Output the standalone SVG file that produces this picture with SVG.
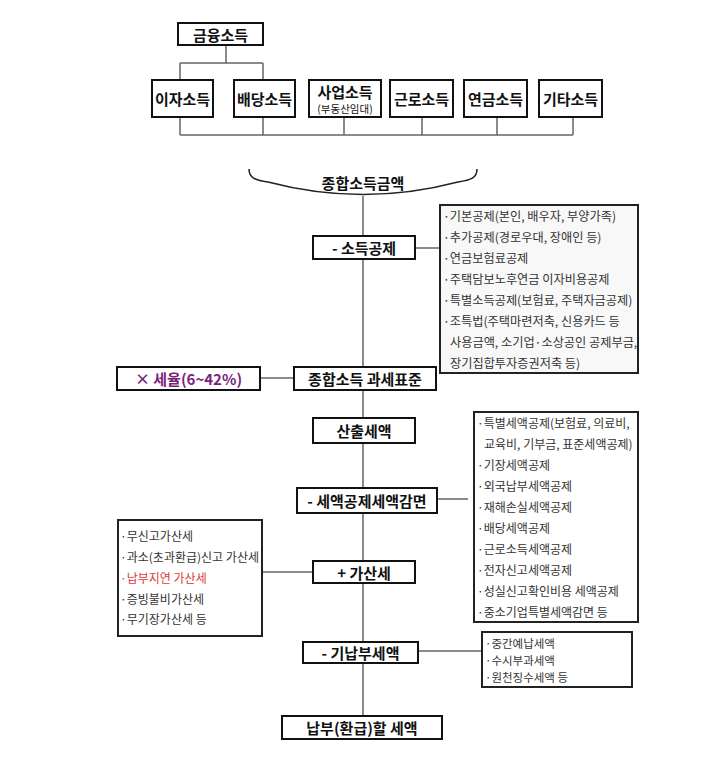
<svg xmlns="http://www.w3.org/2000/svg" width="725" height="767" viewBox="0 0 725 767">
<style>
.bg{fill:#fff}
.box{fill:#fff;stroke:#111;stroke-width:2}
.lst{fill:#fff;stroke:#222;stroke-width:2}
.ln{fill:none;stroke:#666;stroke-width:1.5}
.lb{font-family:"Noto Sans CJK KR","Noto Sans",sans-serif;font-weight:bold;font-size:15px;fill:#111;text-anchor:middle;dominant-baseline:central}
.it{font-family:"Noto Sans CJK KR","Noto Sans",sans-serif;font-size:12.2px;fill:#333;dominant-baseline:central}
.sm{font-size:12px}
.xs{font-size:11.5px}
</style>
<rect class="bg" x="0" y="0" width="725" height="767"/>
<g id="connectors">
<path class="ln" d="M226,45 V63 M180,63 H263 M180,63 V80 M263,63 V80"/>
<path class="ln" d="M180,117 V135 M263,117 V135 M344,117 V135 M422,117 V135 M497,117 V135 M573,117 V135 M180,135 H573"/>
<path class="ln" d="M363,196 V716"/>
<path class="ln" d="M415,248 H440"/>
<path class="ln" d="M260,378 H294"/>
<path class="ln" d="M437,499 H468"/>
<path class="ln" d="M262,572 H313"/>
<path class="ln" d="M418,651 H482"/>
</g>
<g id="n-finance"><rect class="box" x="178" y="23" width="85" height="22"/><text class="lb" x="220.5" y="34">금융소득</text></g>
<g id="n-interest"><rect class="box" x="152" y="80" width="61" height="37"/><text class="lb" x="182.5" y="98.5">이자소득</text></g>
<g id="n-dividend"><rect class="box" x="234" y="80" width="61" height="37"/><text class="lb" x="264.5" y="98.5">배당소득</text></g>
<g id="n-business"><rect class="box" x="309" y="80" width="72" height="37"/><text class="lb" x="345" y="91">사업소득</text><text class="lb" x="345" y="108.5" style="font-size:10.5px;font-weight:normal">(부동산임대)</text></g>
<g id="n-labor"><rect class="box" x="390" y="80" width="63" height="37"/><text class="lb" x="421.5" y="98.5">근로소득</text></g>
<g id="n-pension"><rect class="box" x="464" y="80" width="63" height="37"/><text class="lb" x="495.5" y="98.5">연금소득</text></g>
<g id="n-other"><rect class="box" x="539" y="80" width="63" height="37"/><text class="lb" x="570.5" y="98.5">기타소득</text></g>
<g id="n-total"><path d="M249,169 C249,178 255,180 268,182 Q363,207 458,182 C471,180 477,178 477,169" fill="#fff" stroke="#222" stroke-width="1.5"/><text class="lb" x="363" y="182">종합소득금액</text></g>
<g id="n-deduct"><rect class="box" x="313" y="236" width="102" height="23"/><text class="lb" x="364" y="247.5">- 소득공제</text></g>
<g id="n-deduct-list"><rect class="lst" x="440" y="205" width="198" height="168" style="fill:#f8f8f8"/>
<text class="it" x="443" y="216">·기본공제(본인, 배우자, 부양가족)</text>
<text class="it" x="443" y="237">·추가공제(경로우대, 장애인 등)</text>
<text class="it" x="443" y="258">·연금보험료공제</text>
<text class="it" x="443" y="279">·주택담보노후연금 이자비용공제</text>
<text class="it" x="443" y="300">·특별소득공제(보험료, 주택자금공제)</text>
<text class="it" x="443" y="321">·조특법(주택마련저축, 신용카드 등</text>
<text class="it" x="450" y="342">사용금액, 소기업·소상공인 공제부금,</text>
<text class="it" x="450" y="363">장기집합투자증권저축 등)</text>
</g>
<g id="n-rate"><rect class="box" x="117" y="367" width="143" height="23"/><text class="lb" x="188.5" y="378.5" style="fill:#7b1f7b">×  세율(6~42%)</text></g>
<g id="n-base"><rect class="box" x="294" y="367" width="142" height="23"/><text class="lb" x="365" y="378.5">종합소득 과세표준</text></g>
<g id="n-calc"><rect class="box" x="313" y="418" width="102" height="25"/><text class="lb" x="364" y="430.5">산출세액</text></g>
<g id="n-credit"><rect class="box" x="297" y="488" width="140" height="25"/><text class="lb" x="367" y="500.5">- 세액공제세액감면</text></g>
<g id="n-credit-list"><rect class="lst" x="474" y="412" width="164" height="210"/>
<text class="it sm" x="477" y="422">·특별세액공제(보험료, 의료비,</text>
<text class="it sm" x="484" y="443">교육비, 기부금, 표준세액공제)</text>
<text class="it sm" x="477" y="464">·기장세액공제</text>
<text class="it sm" x="477" y="485">·외국납부세액공제</text>
<text class="it sm" x="477" y="506">·재해손실세액공제</text>
<text class="it sm" x="477" y="527">·배당세액공제</text>
<text class="it sm" x="477" y="548">·근로소득세액공제</text>
<text class="it sm" x="477" y="569">·전자신고세액공제</text>
<text class="it sm" x="477" y="590">·성실신고확인비용 세액공제</text>
<text class="it sm" x="477" y="611">·중소기업특별세액감면 등</text>
</g>
<g id="n-penalty"><rect class="box" x="313" y="561" width="102" height="22"/><text class="lb" x="364" y="572">+ 가산세</text></g>
<g id="n-penalty-list"><rect class="lst" x="118" y="520" width="144" height="116"/>
<text class="it sm" x="120" y="535">·무신고가산세</text>
<text class="it sm" x="120" y="556">·과소(초과환급)신고 가산세</text>
<text class="it sm" x="120" y="577" style="fill:#e03a3a">·납부지연 가산세</text>
<text class="it sm" x="120" y="598">·증빙불비가산세</text>
<text class="it sm" x="120" y="618">·무기장가산세 등</text>
</g>
<g id="n-prepaid"><rect class="box" x="303" y="642" width="115" height="21"/><text class="lb" x="360.5" y="652.5">- 기납부세액</text></g>
<g id="n-prepaid-list"><rect class="lst" x="482" y="632" width="150" height="55"/>
<text class="it xs" x="485" y="643">·중간예납세액</text>
<text class="it xs" x="485" y="660">·수시부과세액</text>
<text class="it xs" x="485" y="677">·원천징수세액 등</text>
</g>
<g id="n-final"><rect class="box" x="282" y="716" width="160" height="23"/><text class="lb" x="362" y="727.5">납부(환급)할 세액</text></g>
</svg>
